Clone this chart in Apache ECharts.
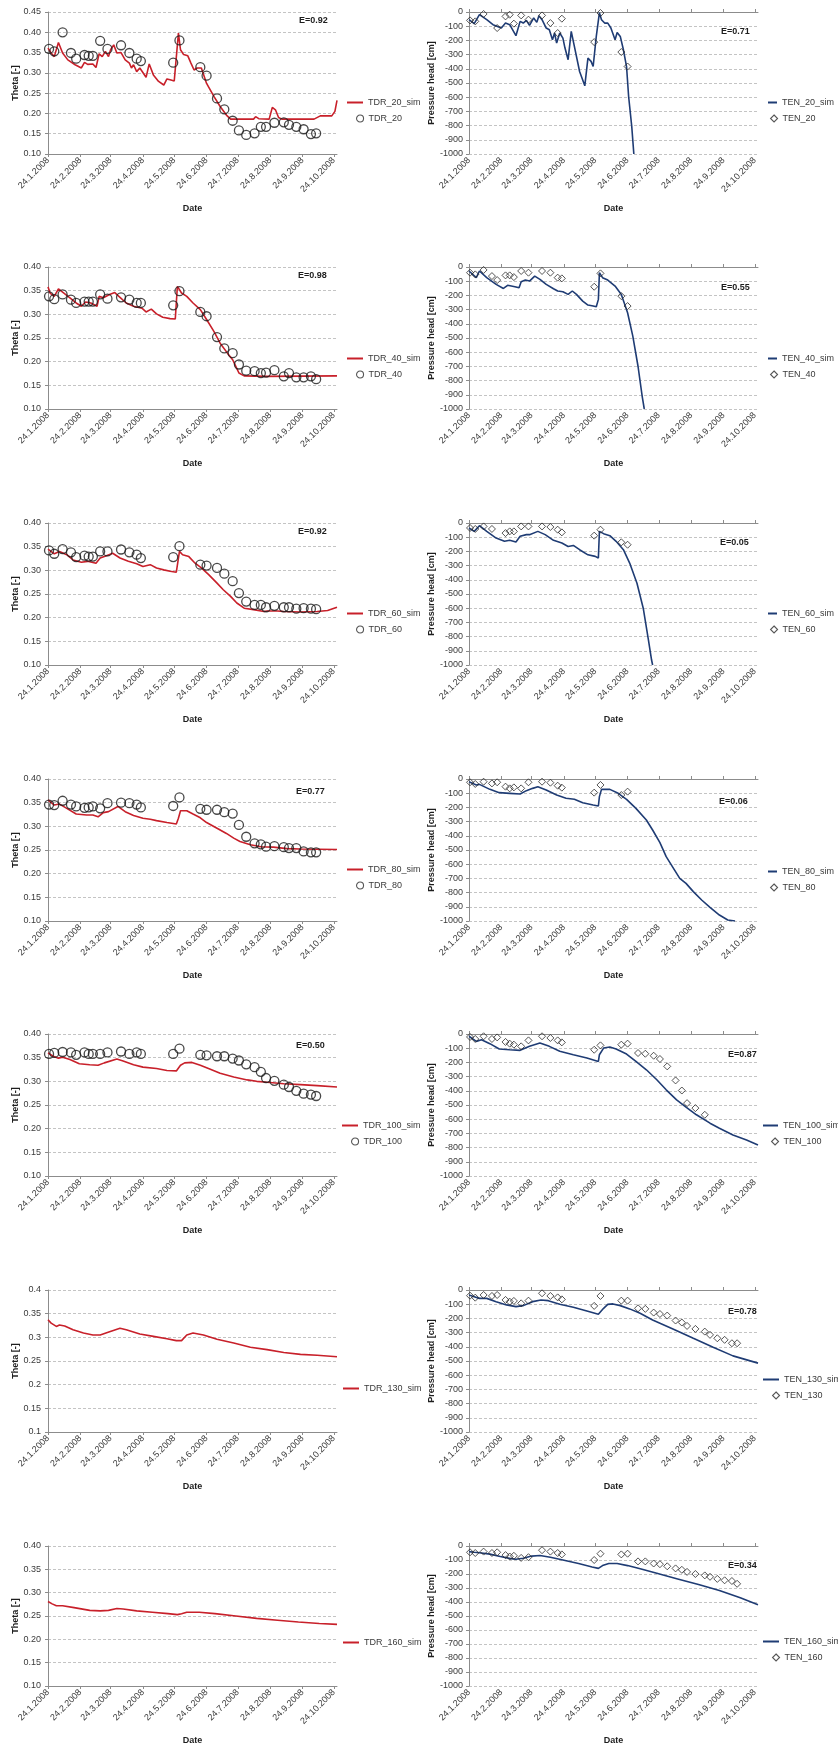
<!DOCTYPE html>
<html>
<head>
<meta charset="utf-8">
<script src="https://cdn.jsdelivr.net/npm/echarts@6/dist/echarts.min.js"></script>
<style>
  html, body { margin: 0; padding: 0; background: #fff; }
  #chart { width: 838px; height: 1746px; }
</style>
</head>
<body>
<div id="chart"></div>
<script>
// ---- x axis: days since 24.1.2008, ticks on the 24th of each month ----
const tickDays = [0, 31, 60, 91, 121, 152, 182, 213, 244, 274];
const tickLabels = ['24.1.2008', '24.2.2008', '24.3.2008', '24.4.2008', '24.5.2008',
  '24.6.2008', '24.7.2008', '24.8.2008', '24.9.2008', '24.10.2008'];

// measurement days (shared by TDR and tensiometer readings)
const obsDays = [1, 6, 14, 22, 27, 35, 39, 43, 50, 57, 70, 78, 85, 89, 120, 126, 146, 152,
  162, 169, 177, 183, 190, 198, 204, 209, 217, 226, 231, 238, 245, 252, 257];

// ---- water content, measured (TDR) ----
const tdr20Obs = [0.359, 0.353, 0.400, 0.349, 0.335, 0.344, 0.342, 0.342, 0.379, 0.359, 0.368, 0.349, 0.335, 0.329, 0.325, 0.380, 0.314, 0.293,
  0.237, 0.210, 0.182, 0.158, 0.147, 0.151, 0.167, 0.167, 0.177, 0.178, 0.172, 0.167, 0.161, 0.149, 0.151];
const tdr40Obs = [0.338, 0.332, 0.342, 0.331, 0.324, 0.327, 0.327, 0.327, 0.342, 0.333, 0.336, 0.331, 0.324, 0.324, 0.319, 0.349, 0.305, 0.296,
  0.252, 0.228, 0.218, 0.194, 0.181, 0.180, 0.176, 0.177, 0.182, 0.169, 0.176, 0.167, 0.167, 0.169, 0.163];
const tdr60Obs = [0.342, 0.335, 0.345, 0.338, 0.328, 0.331, 0.329, 0.329, 0.340, 0.340, 0.344, 0.338, 0.333, 0.326, 0.328, 0.351, 0.312, 0.310,
  0.305, 0.293, 0.277, 0.252, 0.234, 0.227, 0.227, 0.222, 0.225, 0.222, 0.222, 0.219, 0.220, 0.219, 0.218];
const tdr80Obs = [0.346, 0.345, 0.354, 0.346, 0.342, 0.339, 0.340, 0.342, 0.338, 0.349, 0.350, 0.349, 0.346, 0.340, 0.343, 0.361, 0.337, 0.335,
  0.335, 0.330, 0.327, 0.303, 0.278, 0.264, 0.262, 0.257, 0.258, 0.256, 0.254, 0.254, 0.247, 0.245, 0.245];
const tdr100Obs = [0.358, 0.360, 0.362, 0.361, 0.356, 0.361, 0.358, 0.358, 0.358, 0.361, 0.363, 0.358, 0.361, 0.358, 0.358, 0.369, 0.356, 0.355,
  0.353, 0.353, 0.348, 0.344, 0.336, 0.330, 0.320, 0.307, 0.301, 0.293, 0.288, 0.280, 0.274, 0.272, 0.269];

// ---- water content, simulated: [day, theta] ----
const tdr20Sim = [[0, 0.361], [3, 0.349], [6, 0.340], [10, 0.375], [14, 0.349], [19, 0.332], [26, 0.320], [32, 0.312], [35, 0.326], [38, 0.321],
  [43, 0.322], [46, 0.313], [49, 0.347], [52, 0.340], [55, 0.353], [58, 0.340], [60, 0.357], [63, 0.369], [66, 0.349], [70, 0.350],
  [74, 0.332], [78, 0.324], [80, 0.312], [82, 0.320], [85, 0.303], [88, 0.312], [94, 0.289], [97, 0.322], [101, 0.295], [106, 0.279],
  [111, 0.270], [114, 0.285], [117, 0.283], [121, 0.280], [125, 0.398], [127, 0.357], [130, 0.345], [134, 0.342], [137, 0.324], [140, 0.307],
  [143, 0.312], [147, 0.312], [152, 0.274], [159, 0.242], [165, 0.217], [171, 0.196], [175, 0.186], [197, 0.186], [199, 0.192], [202, 0.187],
  [212, 0.186], [215, 0.215], [218, 0.209], [221, 0.190], [224, 0.186], [255, 0.186], [261, 0.194], [272, 0.194], [275, 0.205], [277, 0.232]];
const tdr40Sim = [[0, 0.358], [2, 0.345], [6, 0.338], [10, 0.354], [14, 0.347], [21, 0.335], [27, 0.324], [32, 0.317], [36, 0.326], [41, 0.324],
  [47, 0.317], [49, 0.338], [53, 0.335], [59, 0.342], [64, 0.346], [69, 0.336], [75, 0.324], [82, 0.317], [90, 0.313], [94, 0.305],
  [99, 0.311], [104, 0.301], [110, 0.294], [117, 0.291], [122, 0.290], [124, 0.359], [128, 0.345], [133, 0.338], [139, 0.324], [146, 0.310],
  [152, 0.289], [159, 0.264], [165, 0.239], [172, 0.218], [177, 0.204], [180, 0.190], [183, 0.176], [188, 0.170], [210, 0.169], [277, 0.170]];
const tdr60Sim = [[0, 0.345], [6, 0.335], [11, 0.340], [18, 0.333], [24, 0.322], [32, 0.317], [38, 0.319], [46, 0.315], [50, 0.326], [56, 0.331],
  [62, 0.336], [69, 0.326], [77, 0.319], [85, 0.314], [91, 0.308], [98, 0.312], [104, 0.305], [111, 0.301], [117, 0.298], [123, 0.296],
  [126, 0.340], [129, 0.333], [135, 0.329], [141, 0.315], [147, 0.305], [154, 0.291], [162, 0.273], [168, 0.259], [175, 0.245], [181, 0.231],
  [188, 0.220], [197, 0.217], [207, 0.213], [210, 0.214], [220, 0.214], [226, 0.213], [242, 0.212], [258, 0.213], [268, 0.215], [277, 0.222]];
const tdr80Sim = [[0, 0.356], [6, 0.345], [11, 0.347], [18, 0.338], [27, 0.326], [37, 0.324], [43, 0.324], [48, 0.320], [53, 0.329], [58, 0.331],
  [67, 0.342], [74, 0.331], [82, 0.323], [91, 0.317], [98, 0.315], [104, 0.312], [114, 0.308], [123, 0.305], [125, 0.317], [127, 0.333],
  [133, 0.333], [139, 0.326], [146, 0.318], [152, 0.308], [162, 0.296], [171, 0.285], [178, 0.275], [184, 0.268], [194, 0.261], [204, 0.257],
  [216, 0.256], [229, 0.253], [242, 0.252], [277, 0.251]];
const tdr100Sim = [[0, 0.360], [5, 0.353], [10, 0.349], [14, 0.351], [21, 0.346], [30, 0.337], [40, 0.335], [48, 0.334], [54, 0.339], [66, 0.347],
  [72, 0.343], [82, 0.335], [91, 0.330], [104, 0.327], [114, 0.323], [123, 0.322], [127, 0.334], [131, 0.339], [138, 0.340], [146, 0.334],
  [155, 0.326], [165, 0.317], [178, 0.309], [191, 0.303], [200, 0.300], [210, 0.298], [226, 0.295], [242, 0.293], [258, 0.291], [277, 0.288]];
const tdr130Sim = [[0, 0.337], [3, 0.330], [8, 0.323], [11, 0.326], [16, 0.324], [24, 0.316], [34, 0.309], [43, 0.305], [50, 0.305], [59, 0.312],
  [69, 0.319], [75, 0.316], [88, 0.307], [101, 0.302], [114, 0.297], [123, 0.293], [128, 0.293], [133, 0.305], [139, 0.309], [149, 0.305],
  [162, 0.296], [178, 0.288], [194, 0.279], [210, 0.274], [226, 0.268], [242, 0.264], [258, 0.262], [277, 0.259]];
const tdr160Sim = [[0, 0.281], [4, 0.276], [8, 0.272], [14, 0.272], [25, 0.268], [40, 0.262], [50, 0.261], [58, 0.262], [66, 0.266], [72, 0.265],
  [85, 0.261], [100, 0.258], [115, 0.255], [124, 0.253], [128, 0.255], [133, 0.258], [145, 0.258], [160, 0.255], [180, 0.250], [200, 0.245],
  [220, 0.241], [240, 0.237], [260, 0.234], [277, 0.232]];

// ---- pressure head, measured (tensiometers) ----
const ten20Obs = [-59, -66, -14, null, -113, -31, -19, -82, -24, -54, -24, -78, -148, -47, -212, -7, -282, -384,
  null, null, null, null, null, null, null, null, null, null, null, null, null, null, null];
const ten40Obs = [-40, -52, -21, -64, -92, -59, -59, -71, -28, -40, -28, -40, -75, -80, -139, -45, -205, -275,
  null, null, null, null, null, null, null, null, null, null, null, null, null, null, null];
const ten60Obs = [-35, -42, -24, -42, null, -71, -59, -59, -24, -24, -24, -28, -47, -66, -89, -47, -136, -153,
  null, null, null, null, null, null, null, null, null, null, null, null, null, null, null];
const ten80Obs = [-23, -35, -19, -31, -23, -54, -66, -59, -66, -23, -19, -26, -47, -61, -96, -42, -113, -89,
  null, null, null, null, null, null, null, null, null, null, null, null, null, null, null];
const ten100Obs = [-21, -35, -16, -35, -24, -56, -68, -75, -87, -45, -16, -28, -45, -59, -111, -80, -75, -68,
  -134, -139, -153, -176, -228, -327, -398, -487, -522, -569, null, null, null, null, null];
const ten130Obs = [-40, -54, -35, -42, -35, -70, -82, -77, -94, -75, -23, -42, -52, -66, -112, -42, -75, -75,
  -129, -133, -159, -169, -180, -215, -229, -253, -274, -293, -316, -340, -351, -375, -375];
const ten160Obs = [-45, -50, -40, -50, -45, -65, -75, -70, -85, -80, -30, -40, -50, -60, -100, -55, -60, -55,
  -110, -110, -125, -130, -145, -160, -170, -185, -200, -210, -220, -235, -245, -250, -270];

// ---- pressure head, simulated: [day, h] ----
const ten20Sim = [[0, -54], [5, -82], [10, -19], [17, -54], [23, -89], [31, -113], [35, -78], [39, -89], [45, -167], [49, -66], [52, -78],
  [55, -59], [58, -94], [62, -42], [65, -73], [67, -26], [70, -54], [74, -113], [77, -125], [80, -195], [82, -148], [84, -219], [87, -148],
  [90, -184], [92, -254], [95, -336], [98, -136], [101, -242], [106, -419], [111, -520], [114, -325], [117, -348], [119, -384], [122, -172],
  [125, -5], [127, -54], [130, -78], [133, -78], [136, -113], [140, -195], [142, -144], [145, -172], [148, -266], [151, -384], [153, -595],
  [156, -807], [158, -1000]];
const ten40Sim = [[0, -28], [7, -75], [10, -28], [17, -75], [26, -122], [33, -151], [37, -129], [44, -139], [48, -146], [50, -104], [54, -92],
  [58, -99], [63, -64], [68, -87], [74, -122], [81, -153], [85, -169], [90, -174], [95, -193], [99, -169], [103, -193], [109, -240],
  [114, -268], [119, -275], [122, -280], [124, -228], [125, -40], [128, -75], [133, -92], [140, -134], [146, -193], [152, -322],
  [157, -487], [162, -699], [166, -911], [168, -1000]];
const ten60Sim = [[0, -35], [5, -59], [10, -19], [17, -59], [26, -106], [34, -129], [39, -122], [45, -134], [49, -94], [55, -82], [58, -82],
  [66, -59], [73, -82], [81, -122], [89, -141], [95, -165], [100, -158], [106, -188], [114, -224], [121, -235], [124, -247], [125, -59],
  [129, -75], [135, -89], [141, -129], [148, -188], [154, -282], [161, -424], [167, -600], [172, -824], [175, -965], [176, -1000]];
const ten80Sim = [[0, -19], [7, -42], [10, -38], [20, -73], [29, -96], [39, -101], [49, -106], [55, -82], [61, -66], [66, -54], [74, -77],
  [84, -113], [93, -136], [101, -143], [109, -167], [119, -183], [124, -190], [125, -124], [127, -73], [135, -73], [143, -101], [151, -143],
  [160, -207], [170, -289], [176, -359], [183, -448], [189, -547], [196, -629], [202, -700], [208, -735], [215, -793], [223, -852],
  [231, -904], [240, -958], [248, -993], [255, -1000]];
const ten100Sim = [[0, -16], [7, -52], [12, -40], [20, -68], [29, -106], [39, -111], [49, -115], [58, -87], [68, -64], [77, -87], [87, -122],
  [100, -146], [113, -169], [124, -193], [125, -146], [129, -99], [135, -92], [141, -106], [151, -141], [160, -193], [170, -252],
  [180, -322], [189, -393], [199, -464], [208, -515], [218, -569], [231, -628], [240, -664], [253, -711], [266, -746], [277, -781]];
const ten130Sim = [[0, -35], [5, -47], [10, -59], [17, -59], [26, -82], [36, -105], [45, -117], [52, -110], [61, -82], [69, -70], [76, -75],
  [87, -101], [100, -122], [113, -148], [124, -171], [129, -129], [133, -101], [138, -98], [145, -110], [154, -133], [164, -164],
  [176, -211], [196, -276], [215, -340], [234, -403], [253, -464], [277, -515]];
const ten160Sim = [[0, -40], [5, -45], [10, -48], [20, -58], [30, -75], [40, -90], [45, -95], [52, -88], [60, -72], [68, -68], [78, -80],
  [90, -100], [105, -125], [118, -150], [124, -160], [128, -140], [134, -125], [142, -125], [152, -140], [165, -165], [180, -195],
  [200, -235], [220, -275], [240, -318], [260, -370], [277, -420]];

// Nash-Sutcliffe efficiency per panel
const effLabels = {
  TDR_20: 'E=0.92', TDR_40: 'E=0.98', TDR_60: 'E=0.92', TDR_80: 'E=0.77', TDR_100: 'E=0.50',
  TEN_20: 'E=0.71', TEN_40: 'E=0.55', TEN_60: 'E=0.05', TEN_80: 'E=0.06', TEN_100: 'E=0.87', TEN_130: 'E=0.78', TEN_160: 'E=0.34'
};

// ---- panel definitions (row, column, series) ----
const panels = [
  { row: 0, side: 'L', sim: 'TDR_20_sim', simData: tdr20Sim, obs: 'TDR_20', obsData: tdr20Obs, yMax: 0.45 },
  { row: 0, side: 'R', sim: 'TEN_20_sim', simData: ten20Sim, obs: 'TEN_20', obsData: ten20Obs },
  { row: 1, side: 'L', sim: 'TDR_40_sim', simData: tdr40Sim, obs: 'TDR_40', obsData: tdr40Obs },
  { row: 1, side: 'R', sim: 'TEN_40_sim', simData: ten40Sim, obs: 'TEN_40', obsData: ten40Obs },
  { row: 2, side: 'L', sim: 'TDR_60_sim', simData: tdr60Sim, obs: 'TDR_60', obsData: tdr60Obs },
  { row: 2, side: 'R', sim: 'TEN_60_sim', simData: ten60Sim, obs: 'TEN_60', obsData: ten60Obs },
  { row: 3, side: 'L', sim: 'TDR_80_sim', simData: tdr80Sim, obs: 'TDR_80', obsData: tdr80Obs },
  { row: 3, side: 'R', sim: 'TEN_80_sim', simData: ten80Sim, obs: 'TEN_80', obsData: ten80Obs },
  { row: 4, side: 'L', sim: 'TDR_100_sim', simData: tdr100Sim, obs: 'TDR_100', obsData: tdr100Obs },
  { row: 4, side: 'R', sim: 'TEN_100_sim', simData: ten100Sim, obs: 'TEN_100', obsData: ten100Obs },
  { row: 5, side: 'L', sim: 'TDR_130_sim', simData: tdr130Sim, plainLabels: true },
  { row: 5, side: 'R', sim: 'TEN_130_sim', simData: ten130Sim, obs: 'TEN_130', obsData: ten130Obs },
  { row: 6, side: 'L', sim: 'TDR_160_sim', simData: tdr160Sim },
  { row: 6, side: 'R', sim: 'TEN_160_sim', simData: ten160Sim, obs: 'TEN_160', obsData: ten160Obs }
];

// ---- layout ----
const FONT = '"Liberation Sans", Arial, sans-serif';
const AXIS = '#8c8c8c', GRID = '#c4c4c4', LABEL = '#3a3a3a', TITLE = '#1e1e1e';
const RED = '#c8202a', BLUE = '#1f3c74';
const X_MAX = 277;
const ROW_TOP = [12, 267, 523, 779, 1034, 1290, 1546];
const PLOT_H = 142;
const COL = { L: { left: 48, width: 289 }, R: { left: 469, width: 289 } };
// legend anchor: [line start x, text x, y offset of first item]
const LEG = {
  L: [[342, 363, 87], [342, 363, 88], [342, 363, 87], [342, 363, 87], [337, 358, 88], [338, 359, 95], [338, 359, 93]],
  R: [[763, 777, 87], [763, 777, 88], [763, 777, 87], [763, 777, 89], [758, 778, 88], [758, 779, 86], [758, 779, 92]]
};
// efficiency label anchor: [x, y offset]
const EPOS = {
  L: [[299, 9], [298, 9], [298, 9], [296, 13], [296, 12]],
  R: [[721, 20], [721, 21], [720, 20], [719, 23], [728, 21], [728, 22], [728, 20]]
};

const option = {
  animation: false,
  backgroundColor: '#ffffff',
  textStyle: { fontFamily: FONT },
  grid: [], xAxis: [], yAxis: [], series: [], legend: [], graphic: []
};

const labelOf = v => {
  const k = tickDays.indexOf(v);
  return k >= 0 ? tickLabels[k] : '';
};

panels.forEach((p, gi) => {
  const top = ROW_TOP[p.row];
  const col = COL[p.side];
  const isTen = p.side === 'R';
  option.grid.push({ left: col.left, top: top, width: col.width, height: PLOT_H });

  // date axis with labels at the bottom
  const xi = option.xAxis.length;
  option.xAxis.push({
    type: 'value', gridIndex: gi, min: 0, max: X_MAX, position: 'bottom',
    name: 'Date', nameLocation: 'middle', nameGap: 50,
    nameTextStyle: { fontWeight: 'bold', fontSize: 9, color: TITLE, fontFamily: FONT },
    axisLine: { show: !isTen, onZero: false, lineStyle: { color: AXIS, width: 1 } },
    axisTick: { show: !isTen, customValues: tickDays, length: 3, lineStyle: { color: AXIS } },
    axisLabel: { customValues: tickDays, formatter: labelOf, rotate: 45, fontSize: 9, color: LABEL, margin: 5, fontFamily: FONT },
    splitLine: { show: false }
  });
  // pressure head panels: the date axis line crosses at h = 0 (top edge)
  if (isTen) {
    option.xAxis.push({
      type: 'value', gridIndex: gi, min: 0, max: X_MAX, position: 'top',
      axisLine: { show: true, onZero: false, lineStyle: { color: AXIS, width: 1 } },
      axisTick: { show: true, customValues: tickDays, length: 3, lineStyle: { color: AXIS } },
      axisLabel: { show: false },
      splitLine: { show: false }
    });
  }

  option.yAxis.push(isTen ? {
    type: 'value', gridIndex: gi, min: -1000, max: 0, interval: 100,
    name: 'Pressure head [cm]', nameLocation: 'middle', nameGap: 29,
    nameTextStyle: { fontWeight: 'bold', fontSize: 9, color: TITLE, fontFamily: FONT },
    axisLine: { show: true, lineStyle: { color: AXIS } },
    axisTick: { show: true, length: 3, lineStyle: { color: AXIS } },
    axisLabel: { fontSize: 9, color: LABEL, margin: 6, fontFamily: FONT, formatter: v => String(v) },
    splitLine: { show: true, lineStyle: { color: GRID, type: [3, 2], width: 1 } }
  } : {
    type: 'value', gridIndex: gi, min: 0.10, max: p.yMax || 0.40, interval: 0.05,
    name: 'Theta [-]', nameLocation: 'middle', nameGap: 27,
    nameTextStyle: { fontWeight: 'bold', fontSize: 9, color: TITLE, fontFamily: FONT },
    axisLine: { show: true, lineStyle: { color: AXIS } },
    axisTick: { show: true, length: 3, lineStyle: { color: AXIS } },
    axisLabel: {
      fontSize: 9, color: LABEL, margin: 7, fontFamily: FONT,
      formatter: p.plainLabels ? (v => String(+v.toFixed(2))) : (v => v.toFixed(2))
    },
    splitLine: { show: true, lineStyle: { color: GRID, type: [3, 2], width: 1 } }
  });

  const color = isTen ? BLUE : RED;
  option.series.push({
    type: 'line', name: p.sim, xAxisIndex: xi, yAxisIndex: gi,
    data: p.simData, symbol: 'none', color: color,
    lineStyle: { width: 1.6, color: color }, z: 3
  });
  const [lx, tx, ly] = LEG[p.side][p.row];
  option.legend.push({
    data: [p.sim], left: lx, top: top + ly - 6, icon: 'rect',
    itemWidth: tx - 5 - lx, itemHeight: 2, selectedMode: false,
    textStyle: { fontSize: 9, color: LABEL, fontFamily: FONT }
  });

  if (p.obs) {
    const pts = [];
    obsDays.forEach((d, k) => { if (p.obsData[k] != null) pts.push([d, p.obsData[k]]); });
    const shape = isTen ? 'diamond' : 'circle';
    const mStyle = isTen
      ? { color: 'rgba(255,255,255,0)', borderColor: '#2a2a2a', borderWidth: 1 }
      : { color: 'rgba(255,255,255,0)', borderColor: '#1a1a1a', borderWidth: 1.3 };
    option.series.push({
      type: 'scatter', name: p.obs, xAxisIndex: xi, yAxisIndex: gi,
      data: pts, symbol: shape, symbolSize: isTen ? 7 : 9,
      itemStyle: mStyle, z: 4
    });
    option.legend.push({
      data: [p.obs], left: tx - 12, top: top + ly + 16 - 6, icon: shape,
      itemWidth: 7, itemHeight: 7, selectedMode: false,
      itemStyle: { color: 'rgba(255,255,255,0)', borderColor: '#2a2a2a', borderWidth: 1.1 },
      textStyle: { fontSize: 9, color: LABEL, fontFamily: FONT }
    });
  }

  const eKey = p.sim.replace('_sim', '');
  const ep = EPOS[p.side][p.row];
  if (effLabels[eKey] && ep) {
    option.graphic.push({
      type: 'text', left: ep[0], top: top + ep[1] - 5, silent: true,
      style: { text: effLabels[eKey], font: 'bold 9px ' + FONT, fill: TITLE }
    });
  }
});

const chart = echarts.init(document.getElementById('chart'), null, { renderer: 'canvas', devicePixelRatio: 1 });
chart.setOption(option);
</script>
</body>
</html>
